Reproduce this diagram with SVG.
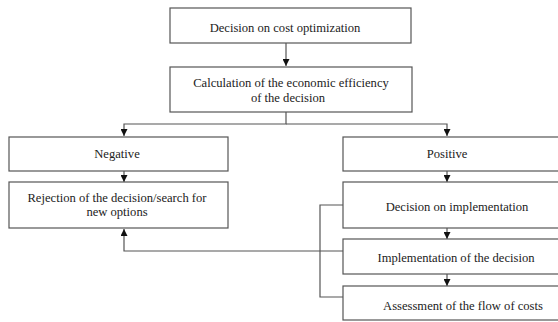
<svg xmlns="http://www.w3.org/2000/svg" width="558" height="322" viewBox="0 0 558 322">
<style>
.box{fill:#fff;stroke:#555;stroke-width:1.2}
.t{font-family:"Liberation Serif","Times New Roman",serif;font-size:12.6px;fill:#222;text-anchor:middle}
.c{fill:none;stroke:#555;stroke-width:1.2}
</style>
<defs>
<marker id="ah" viewBox="0 0 10 10" refX="10" refY="5" markerWidth="7" markerHeight="7" orient="auto" markerUnits="userSpaceOnUse">
<path d="M0,0 L10,5 L0,10 z" fill="#111"/>
</marker>
</defs>
<rect width="558" height="322" fill="#fff"/>
<g id="connectors">
<path class="c" d="M286,43 V66" marker-end="url(#ah)"/>
<path class="c" d="M286,112 V124 H124 V136" marker-end="url(#ah)"/>
<path class="c" d="M286,124 H447 V136" marker-end="url(#ah)"/>
<path class="c" d="M124,171 V182" marker-end="url(#ah)"/>
<path class="c" d="M447,171 V182" marker-end="url(#ah)"/>
<path class="c" d="M447,228 V239" marker-end="url(#ah)"/>
<path class="c" d="M447,274 V286" marker-end="url(#ah)"/>
<path class="c" d="M343,251 H124 V229" marker-end="url(#ah)"/>
<path class="c" d="M343,205 H320 V297 H343"/>
</g>
<g id="n1"><rect class="box" x="170" y="8" width="241" height="35"/><text class="t" x="285" y="32">Decision on cost optimization</text></g>
<g id="n2"><rect class="box" x="170" y="67" width="242" height="45"/><text class="t" x="291" y="87">Calculation of the economic efficiency</text><text class="t" x="288" y="102">of the decision</text></g>
<g id="n3"><rect class="box" x="9" y="137" width="219" height="34"/><text class="t" x="117" y="158">Negative</text></g>
<g id="n4"><rect class="box" x="343" y="137" width="220" height="34"/><text class="t" x="447" y="158">Positive</text></g>
<g id="n5"><rect class="box" x="9" y="182" width="219" height="46"/><text class="t" x="117" y="202">Rejection of the decision/search for</text><text class="t" x="117" y="216">new options</text></g>
<g id="n6"><rect class="box" x="343" y="182" width="220" height="46"/><text class="t" x="457" y="211">Decision on implementation</text></g>
<g id="n7"><rect class="box" x="343" y="239" width="220" height="35"/><text class="t" x="456" y="262">Implementation of the decision</text></g>
<g id="n8"><rect class="box" x="343" y="286" width="220" height="34"/><text class="t" x="463" y="310">Assessment of the flow of costs</text></g>
</svg>
